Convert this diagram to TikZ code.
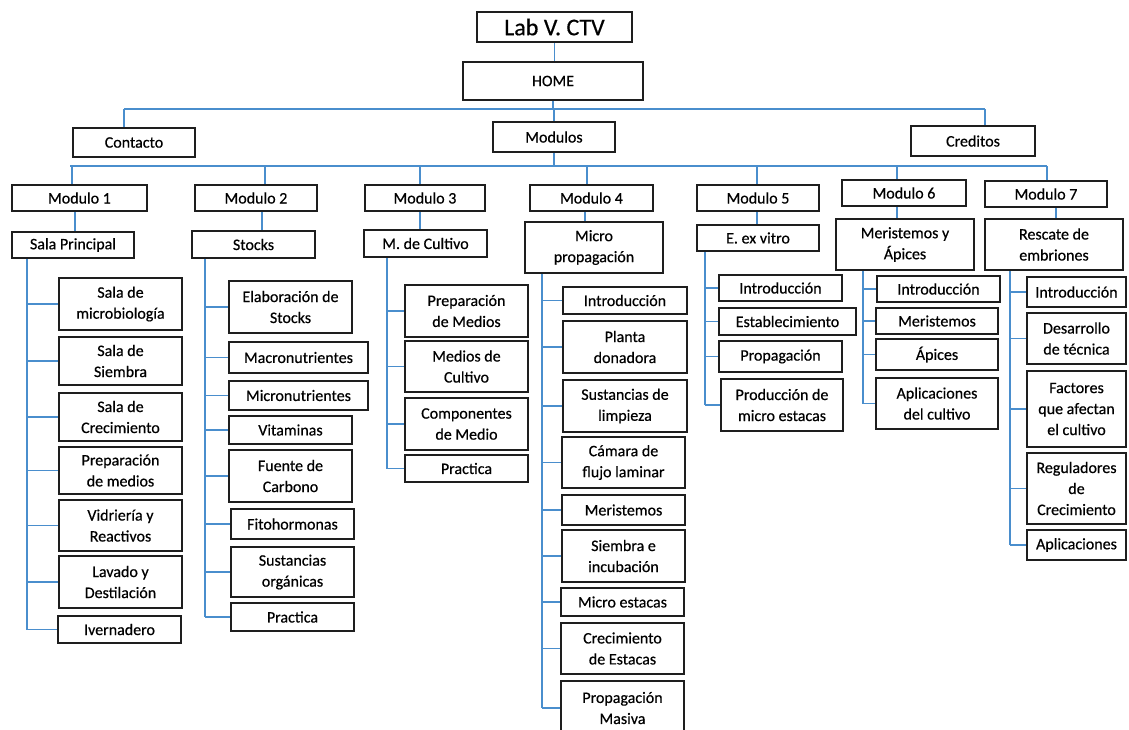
\documentclass[tikz,border=0pt]{standalone}
\usepackage{fontspec}
\setmainfont[FakeBold=0.5]{Carlito}
\definecolor{conblue}{RGB}{74,142,205}
\definecolor{boxline}{RGB}{30,30,30}
\tikzset{
  box/.style={draw=boxline, line width=2.6pt, fill=white, inner sep=0pt, align=center,
    font=\fontsize{16}{21}\selectfont},
  con/.style={draw=conblue, line width=1.9pt},
}
\newcommand\bx[6]{\node[box, minimum width={(#4-#2)*1pt}, minimum height={(#5-#3)*1pt}] (#1) at ({(#2+#4)/2},{(#3+#5)/2}) {#6};}
\begin{document}
\begin{tikzpicture}[x=1pt,y=-1pt]
\useasboundingbox (0,0) rectangle (1129,729);
% ---------- top levels ----------
\bx{lab}{477}{12}{632}{42}{\fontsize{24}{26}\selectfont Lab V. CTV}
\bx{home}{463}{62}{643}{100}{HOME}
\bx{contacto}{73}{128}{195}{157}{Contacto}
\bx{modulos}{493}{122}{615}{152}{Modulos}
\bx{creditos}{911}{126}{1035}{156}{Creditos}
\bx{m1}{12}{185}{147}{211}{Modulo 1}
\bx{m2}{195}{185}{317}{211}{Modulo 2}
\bx{m3}{365}{185}{485}{211}{Modulo 3}
\bx{m4}{530}{185}{653}{211}{Modulo 4}
\bx{m5}{697}{185}{819}{211}{Modulo 5}
\bx{m6}{842}{180}{966}{206}{Modulo 6}
\bx{m7}{985}{181}{1107}{207}{Modulo 7}
% ---------- second level ----------
\bx{sp}{12}{232}{134}{258}{Sala Principal}
\bx{st}{192}{231}{315}{258}{Stocks}
\bx{mc}{364}{230}{487}{257}{M. de Cultivo}
\bx{mp}{525}{222}{663}{273}{Micro\\propagación}
\bx{ev}{697}{225}{819}{251}{E. ex vitro}
\bx{ma}{836}{219}{974}{270}{Meristemos y\\Ápices}
\bx{re}{985}{219}{1123}{270}{Rescate de\\embriones}
% ---------- column 1 ----------
\bx{a1}{59}{278}{182}{330}{Sala de\\microbiología}
\bx{a2}{59}{337}{182}{385}{Sala de\\Siembra}
\bx{a3}{59}{393}{182}{441}{Sala de\\Crecimiento}
\bx{a4}{59}{447}{182}{494}{Preparación\\de medios}
\bx{a5}{59}{500}{182}{551}{Vidriería y\\Reactivos}
\bx{a6}{59}{556}{182}{608}{Lavado y\\Destilación}
\bx{a7}{58}{616}{181}{643}{Ivernadero}
% ---------- column 2 ----------
\bx{b1}{229}{281}{352}{333}{Elaboración de\\Stocks}
\bx{b2}{229}{342}{368}{373}{Macronutrientes}
\bx{b3}{229}{381}{368}{410}{Micronutrientes}
\bx{b4}{229}{416}{352}{444}{Vitaminas}
\bx{b5}{229}{450}{352}{502}{Fuente de\\Carbono}
\bx{b6}{231}{509}{354}{539}{Fitohormonas}
\bx{b7}{231}{547}{354}{597}{Sustancias\\orgánicas}
\bx{b8}{231}{603}{354}{631}{Practica}
% ---------- column 3 ----------
\bx{c1}{405}{285}{528}{337}{Preparación\\de Medios}
\bx{c2}{405}{341}{528}{392}{Medios de\\Cultivo}
\bx{c3}{405}{398}{528}{450}{Componentes\\de Medio}
\bx{c4}{405}{455}{528}{482}{Practica}
% ---------- column 4 ----------
\bx{d1}{563}{287}{687}{314}{Introducción}
\bx{d2}{563}{321}{687}{373}{Planta\\donadora}
\bx{d3}{563}{380}{687}{432}{Sustancias de\\limpieza}
\bx{d4}{562}{437}{685}{488}{Cámara de\\flujo laminar}
\bx{d5}{562}{495}{685}{525}{Meristemos}
\bx{d6}{562}{530}{685}{582}{Siembra e\\incubación}
\bx{d7}{561}{588}{684}{616}{Micro estacas}
\bx{d8}{561}{623}{684}{674}{Crecimiento\\de Estacas}
\bx{d9}{561}{681}{684}{735}{Propagación\\Masiva}
% ---------- column 5 ----------
\bx{e1}{719}{275}{842}{301}{Introducción}
\bx{e2}{719}{308}{856}{335}{Establecimiento}
\bx{e3}{719}{341}{842}{372}{Propagación}
\bx{e4}{721}{379}{843}{431}{Producción de\\micro estacas}
% ---------- column 6 ----------
\bx{f1}{877}{276}{1000}{302}{Introducción}
\bx{f2}{876}{308}{998}{334}{Meristemos}
\bx{f3}{876}{339}{998}{370}{Ápices}
\bx{f4}{876}{378}{998}{429}{Aplicaciones\\del cultivo}
% ---------- column 7 ----------
\bx{g1}{1027}{277}{1126}{307}{Introducción}
\bx{g2}{1027}{313}{1126}{364}{Desarrollo\\de técnica}
\bx{g3}{1027}{371}{1126}{447}{Factores\\que afectan\\el cultivo}
\bx{g4}{1027}{453}{1126}{524}{Reguladores\\de\\Crecimiento}
\bx{g5}{1027}{530}{1126}{560}{Aplicaciones}
% ---------- connectors: top ----------
\draw[con] (lab.south) -- (lab.south |- home.north);
\coordinate (p1) at (124,109);
\coordinate (p2) at (985,109);
\draw[con] (home.south) -- (home.south |- p1);
\draw[con] (p1) -- (p2);
\draw[con] (p1) -- (p1 |- contacto.north);
\draw[con] (p2) -- (p2 |- creditos.north);
\draw[con] (modulos.north) -- (modulos.north |- p1);
\coordinate (q1) at (70,166);
\coordinate (q2) at (1047,166);
\draw[con] (modulos.south) -- (modulos.south |- q1);
\draw[con] (q1) -- (q2);
\foreach \n/\x in {m1/72,m2/265,m3/420,m4/587,m5/757,m6/897,m7/1047}
  \draw[con] (\x,166) -- (\x,0 |- \n.north);
\foreach \m/\s/\x in {m1/sp/75,m2/st/262,m3/mc/420,m4/mp/585,m5/ev/757,m6/ma/897,m7/re/1056}
  \draw[con] (\x,0 |- \m.south) -- (\x,0 |- \s.north);
% ---------- connectors: trunks ----------
\draw[con] (27,0 |- sp.south) -- (27,0 |- a7.west);
\foreach \c in {a1,a2,a3,a4,a5,a6,a7} \draw[con] (\c.west) -- (27,0 |- \c.west);
\draw[con] (205,0 |- st.south) -- (205,0 |- b8.west);
\foreach \c in {b1,b2,b3,b4,b5,b6,b7,b8} \draw[con] (\c.west) -- (205,0 |- \c.west);
\draw[con] (387,0 |- mc.south) -- (387,0 |- c4.west);
\foreach \c in {c1,c2,c3,c4} \draw[con] (\c.west) -- (387,0 |- \c.west);
\draw[con] (542,0 |- mp.south) -- (542,0 |- d9.west);
\foreach \c in {d1,d2,d3,d4,d5,d6,d7,d8,d9} \draw[con] (\c.west) -- (542,0 |- \c.west);
\draw[con] (705,0 |- ev.south) -- (705,0 |- e4.west);
\foreach \c in {e1,e2,e3,e4} \draw[con] (\c.west) -- (705,0 |- \c.west);
\draw[con] (863,0 |- ma.south) -- (863,0 |- f4.west);
\foreach \c in {f1,f2,f3,f4} \draw[con] (\c.west) -- (863,0 |- \c.west);
\draw[con] (1010,0 |- re.south) -- (1010,0 |- g5.west);
\foreach \c in {g1,g2,g3,g4,g5} \draw[con] (\c.west) -- (1010,0 |- \c.west);
\end{tikzpicture}
\end{document}
